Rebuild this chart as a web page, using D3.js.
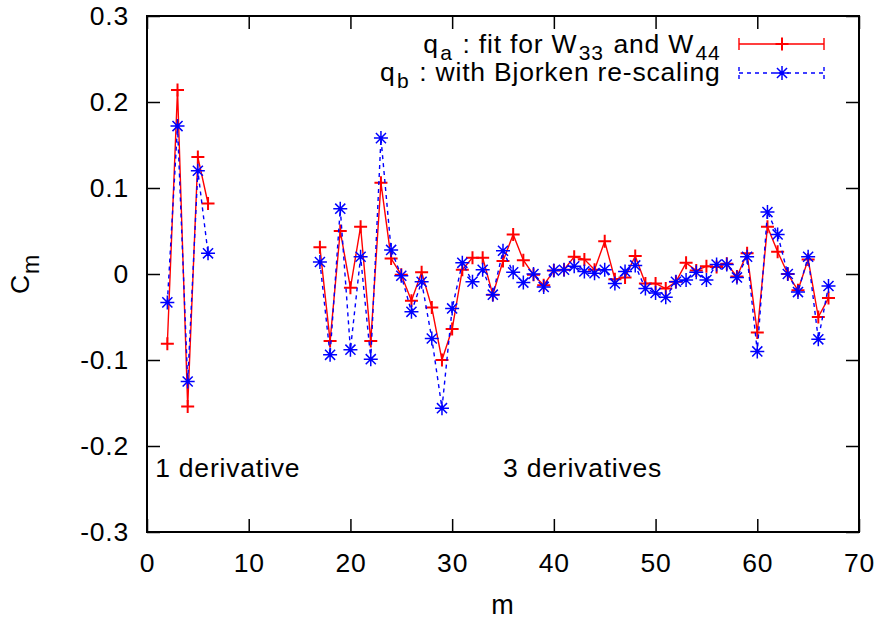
<!DOCTYPE html>
<html>
<head>
<meta charset="utf-8">
<script src="https://cdn.jsdelivr.net/npm/d3@7"></script>
<style>
  body { margin: 0; background: #fff; }
  text { font-family: "Liberation Sans", Arial, Helvetica, sans-serif; fill: #000; letter-spacing: 0.8px; }
</style>
</head>
<body>
<svg id="chart"></svg>
<script>
const width = 885;
const height = 622;

// m values, two blocks (1 derivative / 3 derivatives)
const m1 = [2, 3, 4, 5, 6];
const qa1 = [-0.081, 0.214, -0.154, 0.136, 0.082];
const qb1 = [-0.033, 0.172, -0.125, 0.120, 0.024];

const m3 = [17, 18, 19, 20, 21, 22, 23, 24, 25, 26, 27, 28, 29, 30, 31, 32, 33, 34,
            35, 36, 37, 38, 39, 40, 41, 42, 43, 44, 45, 46, 47, 48, 49, 50, 51, 52,
            53, 54, 55, 56, 57, 58, 59, 60, 61, 62, 63, 64, 65, 66, 67];
const qa3 = [0.031, -0.078, 0.050, -0.016, 0.055, -0.078, 0.106, 0.018, -0.001, -0.031,
             0.002, -0.039, -0.100, -0.064, 0.005, 0.019, 0.019, -0.024, 0.015, 0.046,
             0.016, -0.001, -0.013, 0.004, 0.005, 0.020, 0.017, 0.005, 0.038, -0.006,
             -0.004, 0.021, -0.011, -0.011, -0.017, -0.009, 0.013, 0.004, 0.009, 0.008,
             0.012, -0.003, 0.024, -0.068, 0.055, 0.026, 0.000, -0.019, 0.017, -0.050,
             -0.028];
const qb3 = [0.014, -0.094, 0.076, -0.088, 0.020, -0.099, 0.158, 0.028, -0.002, -0.044,
             -0.009, -0.075, -0.156, -0.040, 0.013, -0.009, 0.005, -0.024, 0.027, 0.002,
             -0.010, 0.000, -0.015, 0.004, 0.005, 0.009, 0.003, 0.001, 0.005, -0.011,
             0.003, 0.010, -0.017, -0.022, -0.027, -0.009, -0.007, 0.002, -0.007, 0.011,
             0.011, -0.004, 0.020, -0.090, 0.072, 0.046, 0.000, -0.021, 0.020, -0.076,
             -0.014];

const xTicks = [0, 10, 20, 30, 40, 50, 60, 70];
const yTicks = [-0.3, -0.2, -0.1, 0, 0.1, 0.2, 0.3];
const yTickLabels = ["-0.3", "-0.2", "-0.1", "0", "0.1", "0.2", "0.3"];

const plotLeft = 147, plotRight = 859, plotTop = 16, plotBottom = 532;
const tick = 13;
const fontMain = 26.5, fontSub = 21;

const svg = d3.select("#chart")
    .attr("width", width)
    .attr("height", height);

const xScale = d3.scaleLinear().domain([0, 70]).range([plotLeft, plotRight]);
const yScale = d3.scaleLinear().domain([-0.3, 0.3]).range([plotBottom, plotTop]);

// axes with inward ticks (plus mirrored on top/right)
const gx = svg.append("g")
    .attr("transform", "translate(0," + plotBottom + ")")
    .call(d3.axisBottom(xScale).tickValues(xTicks).tickSizeInner(-tick).tickSizeOuter(0).tickPadding(21));
const gy = svg.append("g")
    .attr("transform", "translate(" + plotLeft + ",0)")
    .call(d3.axisLeft(yScale).tickValues(yTicks).tickSizeInner(-tick).tickSizeOuter(0).tickPadding(18)
        .tickFormat((d, i) => yTickLabels[i]));
const gxt = svg.append("g")
    .attr("transform", "translate(0," + plotTop + ")")
    .call(d3.axisTop(xScale).tickValues(xTicks).tickSizeInner(-tick).tickSizeOuter(0).tickFormat(""));
const gyr = svg.append("g")
    .attr("transform", "translate(" + plotRight + ",0)")
    .call(d3.axisRight(yScale).tickValues(yTicks).tickSizeInner(-tick).tickSizeOuter(0).tickFormat(""));

[gx, gy, gxt, gyr].forEach(g => {
    g.select(".domain").remove();
    g.selectAll(".tick line").attr("stroke", "#000").attr("stroke-width", 1.5);
    g.selectAll(".tick text").style("font-size", fontMain + "px").attr("fill", "#000");
});

svg.append("rect")
    .attr("x", plotLeft).attr("y", plotTop)
    .attr("width", plotRight - plotLeft).attr("height", plotBottom - plotTop)
    .attr("fill", "none").attr("stroke", "#000").attr("stroke-width", 2);

// series
const line = d3.line().x(d => xScale(d[0])).y(d => yScale(d[1]));
const zip = (ms, vs) => ms.map((m, i) => [m, vs[i]]);

const plusPath = s => `M${-s},0H${s}M0,${-s}V${s}`;
const starPath = s => {
    const k = s * 0.72;
    return `M${-s},0H${s}M0,${-s}V${s}M${-k},${-k}L${k},${k}M${-k},${k}L${k},${-k}`;
};

const series = [
    { segs: [zip(m1, qa1), zip(m3, qa3)], color: "#ff0000", dash: null, sym: plusPath(6.5), sw: 2 },
    { segs: [zip(m1, qb1), zip(m3, qb3)], color: "#0000ff", dash: "4,4", sym: starPath(7), sw: 1.5 }
];

series.forEach(s => {
    s.segs.forEach(seg => {
        svg.append("path")
            .attr("d", line(seg))
            .attr("fill", "none")
            .attr("stroke", s.color)
            .attr("stroke-width", 1.4)
            .attr("stroke-dasharray", s.dash);
        svg.append("g")
            .selectAll("path")
            .data(seg)
            .enter()
            .append("path")
            .attr("transform", d => "translate(" + xScale(d[0]) + "," + yScale(d[1]) + ")")
            .attr("d", s.sym)
            .attr("fill", "none")
            .attr("stroke", s.color)
            .attr("stroke-width", s.sw);
    });
});

// legend: text pieces laid out left to right, then right-aligned at x=721
const legX0 = 739, legX1 = 824, legXm = 782;
function legendEntry(y, baseline, color, dash, sym, sw, parts) {
    svg.append("path")
        .attr("d", `M${legX0},${y}H${legX1}M${legX0},${y - 6}V${y + 6}M${legX1},${y - 6}V${y + 6}`)
        .attr("fill", "none").attr("stroke", color).attr("stroke-width", 1.4)
        .attr("stroke-dasharray", dash);
    svg.append("path")
        .attr("transform", "translate(" + legXm + "," + y + ")")
        .attr("d", sym)
        .attr("fill", "none").attr("stroke", color).attr("stroke-width", sw);
    const g = svg.append("g");
    let x = 0;
    parts.forEach(p => {
        const t = g.append("text")
            .attr("x", x)
            .attr("y", baseline + (p.sub ? 7 : 0))
            .style("font-size", (p.sub ? fontSub : fontMain) + "px")
            .style("white-space", "pre")
            .text(p.t);
        x += t.node().getBBox().width + 1.5;
    });
    g.attr("transform", "translate(" + (722 - x) + ",0)");
}
legendEntry(44, 53, "#ff0000", null, plusPath(6.5), 2, [
    { t: "q" }, { t: "a", sub: true }, { t: " : fit for W" },
    { t: "33", sub: true }, { t: " and W" }, { t: "44", sub: true }
]);
legendEntry(73, 81, "#0000ff", "4,4", starPath(7), 1.5, [
    { t: "q" }, { t: "b", sub: true }, { t: " : with Bjorken re-scaling" }
]);

// annotations
svg.append("text")
    .attr("x", xScale(0.8)).attr("y", 477)
    .style("font-size", fontMain + "px")
    .text("1 derivative");
svg.append("text")
    .attr("x", xScale(35)).attr("y", 477)
    .style("font-size", fontMain + "px")
    .text("3 derivatives");

// axis labels
svg.append("text")
    .attr("x", (plotLeft + plotRight) / 2)
    .attr("y", 614)
    .style("text-anchor", "middle")
    .style("font-size", "27px")
    .text("m");
const yl = svg.append("text")
    .attr("transform", "translate(29,274) rotate(-90)")
    .style("text-anchor", "middle")
    .style("font-size", fontMain + "px");
yl.append("tspan").text("C");
yl.append("tspan").attr("dy", 10).style("font-size", "23px").text("m");
</script>
</body>
</html>
